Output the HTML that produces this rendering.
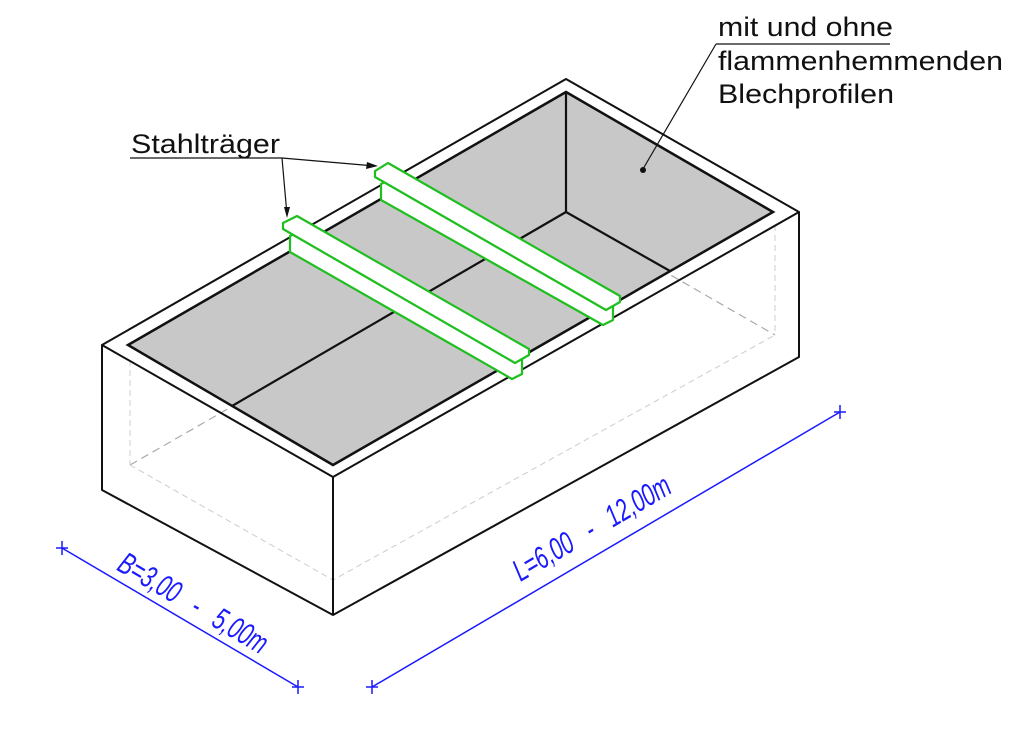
<!DOCTYPE html>
<html><head><meta charset="utf-8"><style>
html,body{margin:0;padding:0;background:#fff}
svg{display:block}
</style></head><body>
<svg width="1024" height="736" viewBox="0 0 1024 736" xmlns="http://www.w3.org/2000/svg">
<rect width="1024" height="736" fill="#fff"/>
<g fill="none" stroke="#aaa" stroke-width="1.2" stroke-dasharray="8,5">
<polyline points="130,465 566,215 775,335"/>
</g>
<g fill="none" stroke="#ccc" stroke-width="1" stroke-dasharray="6,4">
<polyline points="130,465 333,580 775,335"/>
<line x1="130" y1="360" x2="130" y2="465"/>
<line x1="775" y1="225" x2="775" y2="335"/>
<line x1="333" y1="580" x2="333" y2="612"/>
</g>
<g fill="none" stroke="#111" stroke-width="2" stroke-linejoin="round">
<polygon points="102,345 566,79 799,212 333,477"/>
<polyline points="102,345 102,490 333,615 799,357 799,212"/>
<line x1="333" y1="477" x2="333" y2="615"/>
</g>
<polygon points="128,345 566,92 773,212 333,465" fill="#c8c8c8" stroke="#111" stroke-width="2.5"/>
<g stroke="#111" stroke-width="2.2" fill="none">
<line x1="566" y1="92" x2="566" y2="212"/>
<line x1="566" y1="212" x2="232" y2="406"/>
<line x1="566" y1="212" x2="670" y2="271"/>
</g>
<g fill="#fff" stroke="#1fbf1f" stroke-width="2.2" stroke-linejoin="round">
<polygon points="290,236 300,231 522,358 522,374 512,379 290,252"/>
<polygon points="283,223 297,216 529,349 529,355 515,363 283,229"/>
<polygon points="381,184 391,179 613,305 613,320 603,325 381,200"/>
<polygon points="375,171 388,163 620,296 620,302 606,310 375,177"/>
</g>
<g stroke="#1fbf1f" stroke-width="1.8">
<line x1="283" y1="229" x2="515" y2="363"/>
<line x1="375" y1="177" x2="606" y2="310"/>
</g>
<g font-family="'Liberation Sans',sans-serif" font-size="27" fill="#111">
<text x="131" y="153" textLength="149" lengthAdjust="spacingAndGlyphs">Stahlträger</text>
<text x="718" y="36" textLength="175" lengthAdjust="spacingAndGlyphs">mit und ohne</text>
<text x="718" y="70" textLength="285" lengthAdjust="spacingAndGlyphs">flammenhemmenden</text>
<text x="718" y="103" textLength="176" lengthAdjust="spacingAndGlyphs">Blechprofilen</text>
</g>
<g stroke="#111" stroke-width="1.2" fill="none">
<line x1="130" y1="158" x2="282" y2="158"/>
<line x1="282" y1="158" x2="375" y2="166"/>
<line x1="282" y1="158" x2="287" y2="215"/>
<line x1="716" y1="44" x2="890" y2="44"/>
<line x1="716" y1="44" x2="643" y2="169"/>
</g>
<polygon points="378,166 367,162 366,169" fill="#111"/>
<polygon points="287,218 284,207 290,207" fill="#111"/>
<circle cx="643" cy="170" r="3" fill="#111"/>
<g stroke="#1a1aff" stroke-width="1.5" fill="none">
<line x1="62" y1="548" x2="298" y2="687"/>
<line x1="372" y1="687" x2="840" y2="412"/>
<line x1="62" y1="541" x2="62" y2="555"/><line x1="56" y1="548" x2="68" y2="548"/>
<line x1="298" y1="680" x2="298" y2="694"/><line x1="292" y1="687" x2="304" y2="687"/>
<line x1="372" y1="680" x2="372" y2="694"/><line x1="366" y1="687" x2="378" y2="687"/>
<line x1="840" y1="405" x2="840" y2="419"/><line x1="834" y1="412" x2="846" y2="412"/>
</g>
<g font-family="'Liberation Sans',sans-serif" font-size="31" fill="#1a1aff" font-style="italic">
<text transform="translate(188,612) rotate(30.5) scale(0.68,1)" text-anchor="middle" xml:space="preserve">B=3,00   -   5,00m</text>
<text transform="translate(597,537) rotate(-30.5) scale(0.68,1)" text-anchor="middle" xml:space="preserve">L=6,00   -   12,00m</text>
</g>
</svg>
</body></html>
